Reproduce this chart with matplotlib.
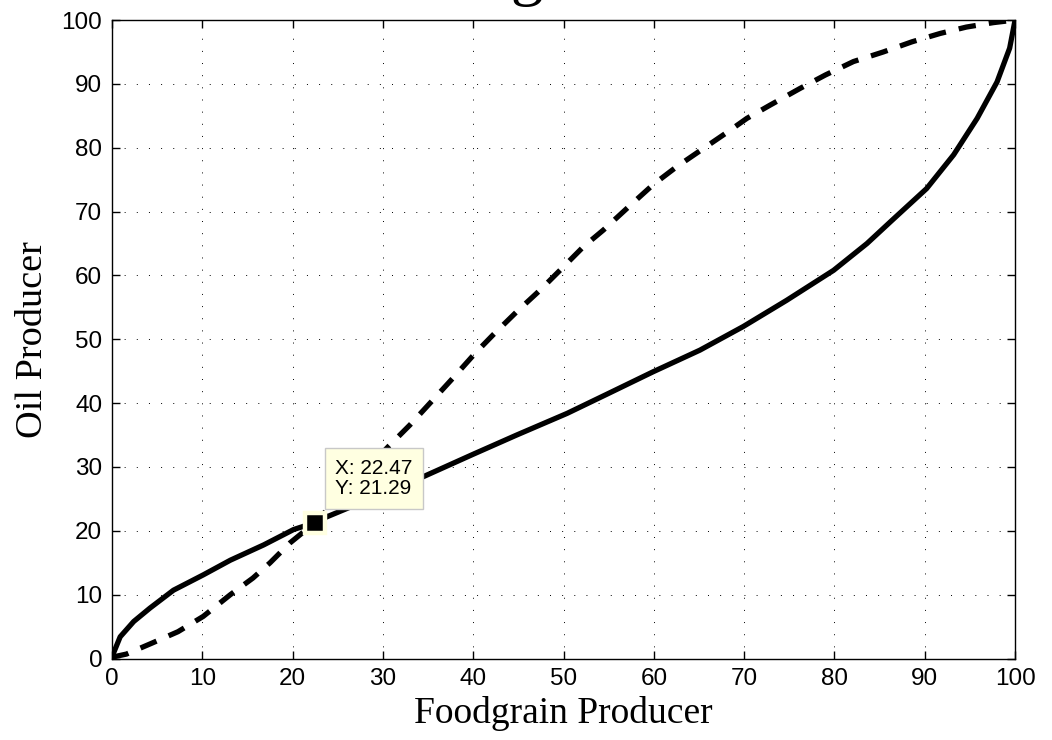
"""
Foodgrain vs oil producer curves with a MATLAB-style data tip
"""
import matplotlib
matplotlib.use('Agg')
import matplotlib.pyplot as plt

# solid curve
solid_x = [0, 0.15, 0.9, 2.4, 4.2, 6.8, 10.1, 13.1, 16.8, 20.1, 22.47, 23.8,
           34.5, 40.0, 44.8, 50.4, 54.8, 59.9, 65.1, 69.9, 74.7, 79.9, 83.6,
           86.5, 90.2, 93.2, 95.8, 98.0, 99.4, 100]
solid_y = [0, 0.8, 3.4, 5.8, 7.9, 10.7, 13.1, 15.4, 17.8, 20.2, 21.29, 22.2,
           28.5, 32.0, 35.0, 38.4, 41.4, 44.9, 48.3, 52.0, 56.1, 60.8, 65.0,
           68.8, 73.6, 78.9, 84.6, 90.3, 95.6, 100]

# dashed curve
dashed_x = [0, 0.3, 1.6, 4.4, 7.3, 10.1, 13.1, 15.6, 17.5, 19.7, 22.47, 30.6,
            33.0, 35.6, 37.8, 40.2, 42.2, 44.8, 47.4, 49.6, 52.2, 54.4, 57.4,
            59.9, 62.5, 65.5, 68.2, 70.3, 72.9, 76.2, 79.0, 82.1, 85.4, 88.6,
            91.7, 94.6, 97.6, 100]
dashed_y = [0, 0.3, 0.7, 2.4, 4.2, 6.6, 10.0, 12.6, 15.0, 18.1, 21.29, 33.2,
            36.6, 40.6, 44.0, 47.8, 50.7, 54.3, 57.7, 60.8, 64.5, 67.1, 71.0,
            74.2, 77.0, 79.9, 82.5, 84.6, 86.7, 89.3, 91.4, 93.5, 95.0, 96.6,
            97.9, 98.9, 99.6, 100]

# data tip
tip_x = 22.47
tip_y = 21.29

ticks = list(range(0, 101, 10))
title = 'Oil & Foodgrain Producers'
xlabel = 'Foodgrain Producer'
ylabel = 'Oil Producer'

serif = 'Liberation Serif'
sans = 'Liberation Sans'

fig = plt.figure(figsize=(10.52, 7.4), dpi=100)
ax = fig.add_axes([0.1065, 0.1101, 0.8584, 0.8628])

ax.plot(solid_x, solid_y, color='k', linewidth=3.8, solid_capstyle='round', zorder=2)
ax.plot(dashed_x, dashed_y, color='k', linewidth=3.8, linestyle=(0, (3.3, 2.5)), zorder=2)

ax.set_xlim(0, 100)
ax.set_ylim(0, 100)
ax.set_xticks(ticks)
ax.set_yticks(ticks)
ax.tick_params(direction='in', length=5.8, width=1, top=True, right=True,
               labelsize=17.5, pad=7)
for lab in ax.get_xticklabels() + ax.get_yticklabels():
    lab.set_family(sans)
for sp in ax.spines.values():
    sp.set_linewidth(1.0)

ax.grid(True, color='k', linewidth=0.7, linestyle=(0, (1, 11.5)))

ax.set_xlabel(xlabel, family=serif, fontsize=27, labelpad=4)
ax.set_ylabel(ylabel, family=serif, fontsize=27.5, labelpad=8)

# title sits mostly above the top edge of the figure
fig.text(0.5380, 1 + 7 / 740, title, family=serif, fontsize=47,
         ha='center', va='baseline')

# data tip marker and label
ax.plot([tip_x], [tip_y], marker='s', markersize=14, markerfacecolor='k',
        markeredgecolor='#FFFFE1', markeredgewidth=3.2, zorder=6)
ax.annotate(f'X: {tip_x:.2f}\nY: {tip_y:.2f}', xy=(tip_x, tip_y),
            xytext=(14.4, 46), textcoords='offset points',
            ha='left', va='top', family=sans, fontsize=15, linespacing=1.1,
            bbox=dict(boxstyle='square,pad=0.5', fc='#FFFFE1', ec='#C8C8C8', lw=1),
            zorder=5)

fig.savefig('out.png', dpi=100)
